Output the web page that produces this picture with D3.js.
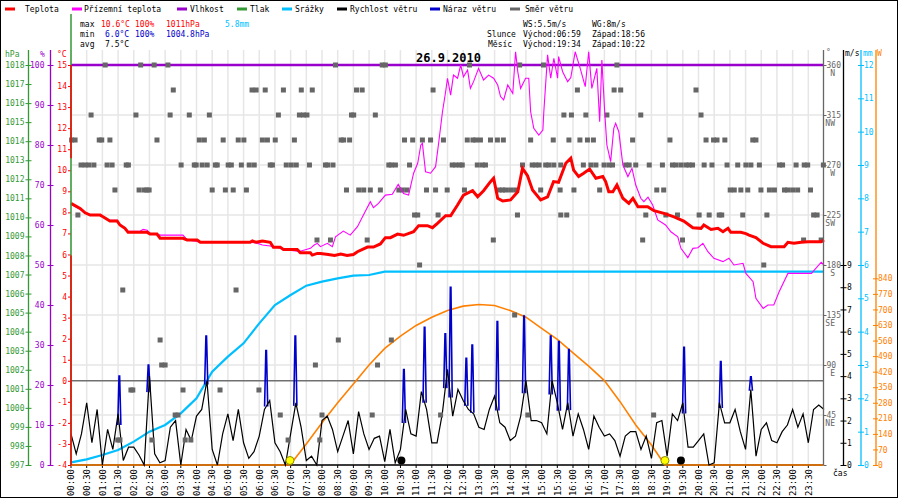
<!DOCTYPE html>
<html>
<head>
<meta charset="utf-8">
<script src="https://cdn.jsdelivr.net/npm/d3@7"></script>
<style>
body { margin: 0; background: #fff; }
svg text { font-family: "DejaVu Sans Mono", monospace; font-size: 8px; }
</style>
</head>
<body>
<svg id="chart" width="900" height="500"></svg>
<script>
// ---- data ----
// [hour, °C]
var tempSeries = [[0,8.43],[0.29,8.19],[0.45,7.98],[0.61,7.87],[0.93,7.87],[1.02,7.79],[1.24,7.59],[1.47,7.59],[1.56,7.40],[1.72,7.24],[1.82,7.05],[2.43,7.05],[2.52,6.97],[2.74,6.97],[2.84,6.77],[3.57,6.77],[3.70,6.69],[4.02,6.69],[4.12,6.58],[5.71,6.58],[5.78,6.64],[5.90,6.58],[6.10,6.64],[6.35,6.58],[6.45,6.34],[6.67,6.34],[6.77,6.24],[7.21,6.24],[7.31,6.08],[7.63,6.08],[7.69,5.97],[7.85,6.05],[7.95,6.05],[8.2,6.0],[8.4,5.95],[8.6,6.02],[8.8,5.95],[9.0,6.0],[9.13,6.13],[9.45,6.35],[9.64,6.35],[9.86,6.50],[10.02,6.80],[10.18,6.80],[10.41,6.97],[10.6,6.91],[10.92,7.08],[11.08,7.37],[11.36,7.37],[11.52,7.27],[11.68,7.48],[11.94,7.84],[12.1,7.84],[12.32,8.35],[12.51,8.82],[12.8,9.03],[12.96,8.74],[13.15,9.03],[13.37,9.46],[13.47,9.62],[13.6,8.67],[13.76,8.54],[14.01,8.59],[14.24,8.98],[14.39,10.09],[14.55,9.74],[14.71,9.06],[14.97,8.59],[15.19,8.74],[15.38,9.46],[15.54,9.43],[15.77,10.33],[15.93,10.57],[16.02,10.01],[16.18,9.70],[16.34,9.86],[16.53,10.06],[16.73,9.62],[16.95,9.70],[17.04,9.46],[17.14,8.98],[17.27,8.98],[17.4,9.30],[17.59,8.67],[17.78,8.43],[17.91,8.67],[18.07,8.27],[18.38,8.27],[18.58,8.08],[18.9,7.95],[19.22,7.79],[19.53,7.59],[19.82,7.27],[20.08,7.24],[20.17,7.40],[20.4,7.19],[20.62,7.24],[20.78,7.08],[20.94,7.24],[21.03,7.05],[21.35,7.05],[21.51,6.99],[21.61,6.92],[21.83,6.80],[22.06,6.53],[22.31,6.37],[22.73,6.37],[22.85,6.58],[23.04,6.53],[23.27,6.58],[23.49,6.61],[23.91,6.61],[24,6.69]];

// [hour, °C] apparent temperature
var feelSeries = [[0,8.38],[0.29,8.15],[0.45,8.0],[0.61,7.9],[0.93,7.9],[1.02,7.8],[1.24,7.62],[1.47,7.62],[1.56,7.42],[1.72,7.26],[1.82,7.1],[2.2,7.1],[2.3,7.19],[2.43,7.15],[2.52,7.0],[2.74,6.97],[2.84,6.92],[3.57,6.92],[3.7,6.69],[4.02,6.62],[4.12,6.58],[5.71,6.58],[5.9,6.55],[6.1,6.45],[6.35,6.4],[6.45,6.37],[6.67,6.3],[6.77,6.24],[7.21,6.15],[7.31,6.15],[7.63,6.29],[7.75,6.45],[7.85,6.53],[7.95,6.37],[8.17,6.53],[8.33,6.37],[8.43,6.84],[8.68,7.11],[8.9,6.92],[9.13,7.32],[9.32,7.87],[9.54,8.51],[9.64,8.22],[9.8,8.43],[10.02,8.82],[10.24,8.86],[10.43,9.33],[10.6,8.90],[10.76,8.82],[10.92,9.86],[11.05,10.33],[11.15,11.2],[11.2,11.28],[11.3,9.93],[11.46,9.86],[11.62,10.17],[11.71,11.2],[11.84,12.78],[11.94,13.73],[12.0,14.37],[12.1,13.57],[12.19,14.52],[12.32,14.37],[12.42,15.0],[12.51,14.44],[12.64,14.76],[12.73,13.89],[12.83,14.21],[12.99,14.84],[13.15,14.29],[13.31,14.52],[13.47,14.37],[13.6,14.05],[13.69,13.5],[13.79,13.34],[13.92,14.05],[14.08,13.65],[14.17,15.63],[14.24,14.68],[14.33,13.89],[14.49,14.37],[14.59,14.37],[14.65,12.78],[14.75,11.99],[14.91,11.67],[15.04,11.91],[15.07,12.78],[15.19,15.48],[15.29,14.37],[15.39,15.32],[15.51,14.37],[15.54,15.4],[15.67,14.68],[15.83,14.21],[15.93,14.4],[16.07,15.63],[16.23,14.84],[16.39,13.97],[16.5,15.63],[16.6,13.89],[16.76,14.84],[16.85,12.31],[16.92,15.24],[17.01,12.78],[17.08,11.2],[17.2,10.41],[17.3,11.99],[17.36,12.23],[17.46,11.83],[17.59,10.25],[17.75,9.70],[17.88,10.09],[18.0,9.30],[18.16,8.67],[18.26,8.51],[18.39,8.72],[18.54,8.35],[18.7,7.64],[18.95,7.40],[19.12,7.08],[19.34,6.84],[19.44,6.29],[19.66,5.85],[19.82,6.29],[19.98,6.32],[20.14,6.53],[20.3,6.13],[20.49,5.82],[20.78,5.66],[20.97,5.82],[21.13,5.50],[21.42,5.58],[21.51,5.10],[21.74,4.71],[21.83,3.92],[22.06,3.44],[22.21,3.60],[22.4,3.60],[22.57,4.23],[22.85,5.10],[23.36,5.10],[23.6,5.10],[23.91,5.63],[24,5.50]];

// [hour, %]
var humiditySeries = [[0,100],[24,100]];

// [hour, mm] cumulative
var rainSeries = [[0,0.08],[0.5,0.17],[1,0.3],[1.5,0.45],[2,0.7],[2.5,1.0],[3,1.2],[3.5,1.55],[4,2.0],[4.5,2.8],[5,3.25],[5.5,3.65],[6,4.25],[6.5,4.8],[7,5.1],[7.5,5.38],[8,5.5],[8.5,5.6],[9,5.68],[9.5,5.7],[10,5.8],[24,5.8]];

// m/s every 10 minutes from 00:00 to 24:00
var windSpeed = [1.4,0.5,1.4,2.8,1.0,2.5,0,1.6,0.7,2.3,0.2,0.8,0.8,0.45,0,4.0,0.5,0.1,0.2,1.7,2.0,0,1.6,1.1,2.2,2.5,3.8,0.7,0,1.4,2.3,1.1,2.5,1.0,0.3,0.6,1.3,2.5,2.9,1.0,0.6,0,1.4,2.8,1.7,0.2,0.4,0,2.0,
  2.2,1.6,0.6,1.3,2.0,0.5,2.4,1.4,0.7,1.2,1.3,0.15,1.6,0.1,0.7,2.5,1.4,1.3,3.3,2.5,1.0,1.0,2.3,4.3,2.2,3.4,2.9,2.5,2.3,1.7,1.6,2.5,3.1,1.9,1.7,1.1,1.3,2.2,3.8,2.0,2.0,1.9,1.4,3.8,2.8,1.6,2.8,
  1.3,2.3,1.6,0.7,2.2,1.7,1.3,1.4,1.1,0.4,1.3,1.5,1.5,0.7,1.3,0.3,1.9,2.0,0.4,2.3,2.0,2.8,0.8,0.8,1.1,1.4,0,0.1,2.8,1.9,1.9,2.5,1.5,0.7,3.4,0.4,1.6,1.9,1.1,1.0,1.5,1.8,2.5,1.7,2.3,1.0,2.5,2.7,2.5];

// [hour, m/s] gust peaks
var gustSeries = [[1.54,4.0],[2.47,4.5],[4.31,5.8],[6.22,5.15],[7.15,5.8],[10.61,4.3],[11.27,6.2],[11.93,5.9],[12.1,8.0],[12.6,4.8],[12.79,5.4],[13.59,6.45],[14.44,6.7],[15.29,5.8],[15.55,5.55],[15.87,5.2],[19.54,5.3],[20.71,4.65],[21.67,3.97]];

// [hour, degrees]
var windDir = [
  [1.09,360],[2.22,360],[2.65,360],[3.09,360],[8.43,360],[9.92,360],[10.02,360],[12.70,360],[14.30,360],[15.06,360],[17.40,360],
  [3.26,337.5],[5.77,337.5],[5.90,337.5],[6.19,337.5],[6.77,337.5],[7.34,337.5],[7.69,337.5],[9.10,337.5],[9.28,337.5],[11.54,337.5],[16.14,337.5],[17.31,337.5],[17.52,337.5],[19.92,337.5],
  [0.64,315],[2.07,315],[3.16,315],[3.77,315],[4.41,315],[6.61,315],[7.28,315],[7.41,315],[7.52,315],[8.94,315],[9.01,315],[9.70,315],[15.71,315],[15.95,315],[16.41,315],[17.08,315],[18.16,315],[20.08,315],
  [0.02,292.5],[0.13,292.5],[0.90,292.5],[0.98,292.5],[1.24,292.5],[2.74,292.5],[4.09,292.5],[4.25,292.5],[4.85,292.5],[5.33,292.5],[5.51,292.5],[6.10,292.5],[6.26,292.5],[6.51,292.5],[7.12,292.5],[8.61,292.5],[8.69,292.5],[8.88,292.5],[10.63,292.5],[10.89,292.5],[11.20,292.5],[11.46,292.5],[11.87,292.5],[12.63,292.5],[12.81,292.5],[12.90,292.5],[13.05,292.5],[13.37,292.5],[13.59,292.5],[13.78,292.5],[14.65,292.5],[15.37,292.5],[15.87,292.5],[16.22,292.5],[16.46,292.5],[16.65,292.5],[17.90,292.5],[19.09,292.5],[20.24,292.5],[20.48,292.5],[20.59,292.5],[20.84,292.5],[21.73,292.5],[21.83,292.5],
  [0.32,270],[0.45,270],[0.57,270],[0.73,270],[1.15,270],[1.31,270],[1.76,270],[1.83,270],[3.51,270],[3.93,270],[3.99,270],[4.18,270],[4.34,270],[4.60,270],[4.66,270],[5.01,270],[5.11,270],[5.43,270],[5.68,270],[5.84,270],[6.35,270],[6.42,270],[6.86,270],[7.02,270],[7.18,270],[7.60,270],[8.11,270],[8.18,270],[8.35,270],[10.13,270],[10.21,270],[10.34,270],[10.79,270],[12.15,270],[12.26,270],[12.39,270],[12.47,270],[12.95,270],[13.11,270],[13.21,270],[14.39,270],[14.70,270],[14.81,270],[14.92,270],[15.13,270],[15.23,270],[15.39,270],[15.61,270],[16.33,270],[16.57,270],[16.73,270],[16.99,270],[17.15,270],[17.26,270],[17.68,270],[17.79,270],[18.00,270],[18.43,270],[18.85,270],[19.17,270],[19.28,270],[19.44,270],[19.60,270],[19.70,270],[19.81,270],[20.18,270],[20.43,270],[20.91,270],[21.25,270],[21.51,270],[21.67,270],[21.94,270],[22.58,270],[22.68,270],[23.11,270],[23.37,270],[23.48,270],[23.98,270],
  [1.40,247.5],[2.17,247.5],[2.33,247.5],[2.42,247.5],[2.49,247.5],[4.50,247.5],[4.92,247.5],[5.17,247.5],[5.59,247.5],[8.78,247.5],[9.17,247.5],[9.33,247.5],[9.54,247.5],[9.86,247.5],[10.45,247.5],[10.56,247.5],[10.71,247.5],[11.33,247.5],[11.62,247.5],[11.99,247.5],[12.54,247.5],[13.64,247.5],[13.75,247.5],[13.85,247.5],[14.01,247.5],[14.17,247.5],[14.97,247.5],[15.59,247.5],[16.03,247.5],[16.85,247.5],[18.67,247.5],[18.89,247.5],[21.01,247.5],[21.14,247.5],[21.35,247.5],[21.57,247.5],[21.99,247.5],[22.26,247.5],[22.42,247.5],[22.74,247.5],[22.84,247.5],[23.00,247.5],[23.16,247.5],[23.57,247.5],
  [0.22,225],[10.95,225],[11.05,225],[11.70,225],[14.23,225],[15.61,225],[15.80,225],[18.32,225],[18.96,225],[19.33,225],[20.02,225],[20.34,225],[20.66,225],[20.74,225],[21.41,225],[22.18,225],[23.67,225],[23.78,225],
  [7.84,202.5],[8.27,202.5],[9.44,202.5],[13.46,202.5],[18.22,202.5],[19.49,202.5],[23.35,202.5],[23.91,202.5],
  [11.11,180],[22.08,180],
  [1.65,157.5],[5.26,157.5],
  [14.14,135],
  [2.84,112.5],[8.52,112.5],[10.21,112.5],
  [2.89,90],[3.00,90],[7.79,90],[9.77,90],
  [1.91,67.5],[1.97,67.5],[3.57,67.5],[4.75,67.5],[5.99,67.5],
  [3.32,45],[3.41,45],[6.67,45],[8.00,45],[9.60,45],[11.78,45],[14.56,45],[18.57,45],
  [1.49,22.5],[1.56,22.5],[2.58,22.5],[3.64,22.5],[3.82,22.5],[6.92,22.5],[7.93,22.5]
];

// [hour, W/m2] sun curve
var solarSeries = [[0,0],[6.98,0],[7.5,95],[8,190],[8.5,280],[9,365],[9.5,450],[10,525],[10.5,580],[11,628],[11.5,665],[12,695],[12.5,715],[13,722],[13.5,718],[14,695],[14.5,665],[15,615],[15.5,565],[16,505],[16.5,445],[17,380],[17.5,285],[18,180],[18.5,90],[18.93,0],[24,0]];

var sunMarks = [6.98, 18.93];
var moonMarks = [10.53, 19.44];

var legendNames = ["Teplota", "Přízemní teplota", "Vlhkost", "Tlak", "Srážky", "Rychlost větru", "Náraz větru", "Směr větru"];
var compassNames = ["NE", "E", "SE", "S", "SW", "W", "NW", "N"];

// ---- layout ----
var red = "#ff0000", magenta = "#ff00ff", purple = "#9900cc", green = "#339933",
    cyan = "#00bfff", blue = "#0000cc", gray = "#666666", orange = "#ff8000";
var legendColors = [red, magenta, purple, green, cyan, "#000", blue, gray];
var legendDashX = [5, 72, 177, 237, 282, 337, 430, 510];
var legendTextX = [25, 84, 190, 250, 295, 350, 443, 525];

var plotTop = 65, plotBottom = 465, axisTop = 50;
var svg = d3.select("#chart");

var x = d3.scaleLinear().domain([0, 24]).range([71, 824]);
var yT = d3.scaleLinear().domain([-4, 15]).range([plotBottom, plotTop]);
var yH = d3.scaleLinear().domain([0, 100]).range([plotBottom, plotTop]);
var yP = d3.scaleLinear().domain([997, 1018]).range([plotBottom, plotTop]);
var yD = d3.scaleLinear().domain([0, 360]).range([plotBottom, plotTop]);
var yW = d3.scaleLinear().domain([0, 18]).range([plotBottom, plotTop]);
var yR = d3.scaleLinear().domain([0, 12]).range([plotBottom, plotTop]);
var yS = d3.scaleLinear().domain([0, 1800]).range([plotBottom, plotTop]);

svg.append("rect").attr("x", 0.5).attr("y", 0.5).attr("width", 897).attr("height", 497)
  .attr("fill", "#fff").attr("stroke", "#000");

// grid
var halfHours = d3.range(48).map(function(i) { return i / 2; });
svg.append("g").selectAll("line").data(halfHours).enter().append("line")
  .attr("x1", function(d) { return x(d); }).attr("x2", function(d) { return x(d); })
  .attr("y1", axisTop).attr("y2", plotBottom)
  .attr("stroke", "#e6e6e6").attr("stroke-width", 1.5);
svg.append("g").selectAll("line").data(d3.range(0, 361, 45)).enter().append("line")
  .attr("x1", 71).attr("x2", 823).attr("y1", function(d) { return yD(d); }).attr("y2", function(d) { return yD(d); })
  .attr("stroke", "#e6e6e6").attr("stroke-width", 1.5);

// 0 °C line
svg.append("line").attr("x1", 71).attr("x2", 823).attr("y1", yT(0)).attr("y2", yT(0))
  .attr("stroke", "#707070").attr("stroke-width", 1.5);

// time axis baseline + ticks
svg.append("line").attr("x1", 71).attr("x2", 823).attr("y1", plotBottom).attr("y2", plotBottom)
  .attr("stroke", "#000").attr("stroke-width", 1.5);
svg.append("g").selectAll("line").data(halfHours).enter().append("line")
  .attr("x1", function(d) { return x(d); }).attr("x2", function(d) { return x(d); })
  .attr("y1", plotBottom).attr("y2", plotBottom + 3).attr("stroke", "#000");
svg.append("g").selectAll("text").data(halfHours).enter().append("text")
  .attr("transform", function(d) { return "translate(" + (x(d) + 3.3) + "," + (plotBottom + 4) + ") rotate(-90)"; })
  .attr("text-anchor", "end").style("font-size", "9px")
  .text(function(d) { return d3.format("02")(Math.floor(d)) + ":" + (d % 1 ? "30" : "00"); });

function pathOf(scaleY) {
  return d3.line().x(function(d) { return x(d[0]); }).y(function(d) { return scaleY(d[1]); });
}

// rain
svg.append("path").datum(rainSeries).attr("d", pathOf(yR))
  .attr("fill", "none").attr("stroke", cyan).attr("stroke-width", 2.2);

// sun curve
svg.append("path").datum(solarSeries).attr("d", pathOf(yS))
  .attr("fill", "none").attr("stroke", orange).attr("stroke-width", 1.6);

// gusts
function speedAt(h) {
  var i = Math.min(Math.floor(h * 6), windSpeed.length - 2), f = h * 6 - i;
  return windSpeed[i] * (1 - f) + windSpeed[i + 1] * f;
}
svg.append("g").selectAll("path").data(gustSeries).enter().append("path")
  .attr("d", function(d) {
    var b = speedAt(d[0]);
    return pathOf(yW)([[d[0] - 0.05, b], [d[0] - 0.01, d[1]], [d[0] + 0.01, d[1]], [d[0] + 0.05, b]]);
  })
  .attr("fill", "none").attr("stroke", blue).attr("stroke-width", 1.6);

// wind speed
svg.append("path").datum(windSpeed.map(function(v, i) { return [i / 6, v]; }))
  .attr("d", pathOf(yW)).attr("fill", "none").attr("stroke", "#000").attr("stroke-width", 1.2);

// humidity
svg.append("path").datum(humiditySeries).attr("d", pathOf(yH))
  .attr("fill", "none").attr("stroke", purple).attr("stroke-width", 2.6);

// wind direction
svg.append("g").selectAll("rect").data(windDir).enter().append("rect")
  .attr("x", function(d) { return x(d[0]) - 2.5; }).attr("y", function(d) { return yD(d[1]) - 2.5; })
  .attr("width", 5).attr("height", 5).attr("fill", gray);

// apparent temperature and temperature
svg.append("path").datum(feelSeries).attr("d", pathOf(yT))
  .attr("fill", "none").attr("stroke", magenta).attr("stroke-width", 1.1);
svg.append("path").datum(tempSeries).attr("d", pathOf(yT))
  .attr("fill", "none").attr("stroke", red).attr("stroke-width", 3);

// sun / moon marks
svg.append("g").selectAll("circle").data(sunMarks).enter().append("circle")
  .attr("cx", function(d) { return x(d); }).attr("cy", plotBottom - 4.5).attr("r", 4)
  .attr("fill", "#ffff00").attr("stroke", "#8a8a00");
svg.append("g").selectAll("circle").data(moonMarks).enter().append("circle")
  .attr("cx", function(d) { return x(d); }).attr("cy", plotBottom - 4.5).attr("r", 4)
  .attr("fill", "#000");

// ---- vertical axes ----
function sideAxis(xPos, scale, values, color, side, fmt, tIn, tOut, pad) {
  var ax = (side === "left" ? d3.axisLeft(scale) : d3.axisRight(scale))
    .tickValues(values).tickSize(tOut).tickPadding(pad).tickFormat(fmt);
  var g = svg.append("g").attr("transform", "translate(" + xPos + ",0)").call(ax);
  g.select(".domain").remove();
  g.selectAll(".tick line").attr("stroke", color).attr("x1", side === "left" ? tIn : -tIn);
  g.selectAll(".tick text").attr("fill", color);
  svg.append("line").attr("x1", xPos).attr("x2", xPos).attr("y1", axisTop).attr("y2", plotBottom)
    .attr("stroke", color).attr("stroke-width", 1.3);
  return g;
}
var plain = function(d) { return String(d); };

sideAxis(28.5, yP, d3.range(997, 1019), green, "left", plain, 3, 3, 1);
sideAxis(50.5, yH, d3.range(0, 101, 10), purple, "left", plain, 3, 3, 3);
sideAxis(823.5, yD, d3.range(0, 361, 45), gray, "right", function(d) { return d ? String(d) : ""; }, 0, 3, 0);
sideAxis(843.5, yW, d3.range(0, 10), "#000", "right", plain, 3, 3, 0.5);
sideAxis(861, yR, d3.range(0, 13), cyan, "right", plain, 3, 3, 0);
sideAxis(876, yS, d3.range(0, 841, 70), orange, "right", plain, 3, 2, 0);

// temperature axis: green with red ends outside the day's range
var tMax = d3.max(tempSeries, function(d) { return d[1]; });
var tMin = d3.min(tempSeries, function(d) { return d[1]; });
var tAxis = d3.axisLeft(yT).tickValues(d3.range(-4, 16)).tickSize(3).tickPadding(1).tickFormat(plain);
var tg = svg.append("g").attr("transform", "translate(71,0)").call(tAxis);
tg.select(".domain").remove();
tg.selectAll(".tick line").attr("stroke", red);
tg.selectAll(".tick text").attr("fill", red);
svg.append("line").attr("x1", 71).attr("x2", 71).attr("y1", 14).attr("y2", plotBottom)
  .attr("stroke", green).attr("stroke-width", 1.5);
svg.append("line").attr("x1", 71).attr("x2", 71).attr("y1", yT(15)).attr("y2", yT(tMax))
  .attr("stroke", red).attr("stroke-width", 1.5);
svg.append("line").attr("x1", 71).attr("x2", 71).attr("y1", yT(tMin)).attr("y2", plotBottom)
  .attr("stroke", red).attr("stroke-width", 1.5);

// compass names under direction labels
svg.append("g").selectAll("text").data(d3.range(45, 361, 45)).enter().append("text")
  .attr("x", 835).attr("y", function(d) { return yD(d) + 10.5; })
  .attr("text-anchor", "end").attr("fill", gray)
  .text(function(d, i) { return compassNames[i]; });

// axis headers
function label(txt, px, py, color, extra) {
  var t = svg.append("text").attr("x", px).attr("y", py).attr("fill", color || "#000").text(txt);
  if (extra) extra(t);
  return t;
}
label("hPa", 5, 57, green);
label("%", 40, 57, purple);
label("°C", 57, 57, red);
label("°", 826, 55, gray);
label("m/s", 845, 56, "#000");
label("mm", 863, 56, cyan);
label("W", 877, 56, orange);
label("čas", 833, 476, "#000");

// legend
legendNames.forEach(function(name, i) {
  svg.append("line").attr("x1", legendDashX[i]).attr("x2", legendDashX[i] + 10)
    .attr("y1", 9).attr("y2", 9).attr("stroke", legendColors[i]).attr("stroke-width", 3);
  label(name, legendTextX[i], 12, "#000");
});

// day stats
label("max", 80, 27); label("10.6°C", 101, 27, red); label("100%", 135, 27, red);
label("1011hPa", 166, 27, red); label("5.8mm", 225, 27, cyan);
label("min", 80, 37); label("6.0°C", 105, 37, blue); label("100%", 135, 37, blue);
label("1004.8hPa", 166, 37, blue);
label("avg", 80, 47); label("7.5°C", 105, 47);

label("WS:5.5m/s", 523, 27); label("WG:8m/s", 592, 27);
label("Slunce", 487, 37); label("Východ:06:59", 523, 37); label("Západ:18:56", 592, 37);
label("Měsíc", 488, 47); label("Východ:19:34", 523, 47); label("Západ:10:22", 592, 47);

// title
label("26.9.2010", 448.5, 62, "#000", function(t) {
  t.attr("text-anchor", "middle").style("font-size", "12px").style("font-weight", "bold");
});
</script>
</body>
</html>
